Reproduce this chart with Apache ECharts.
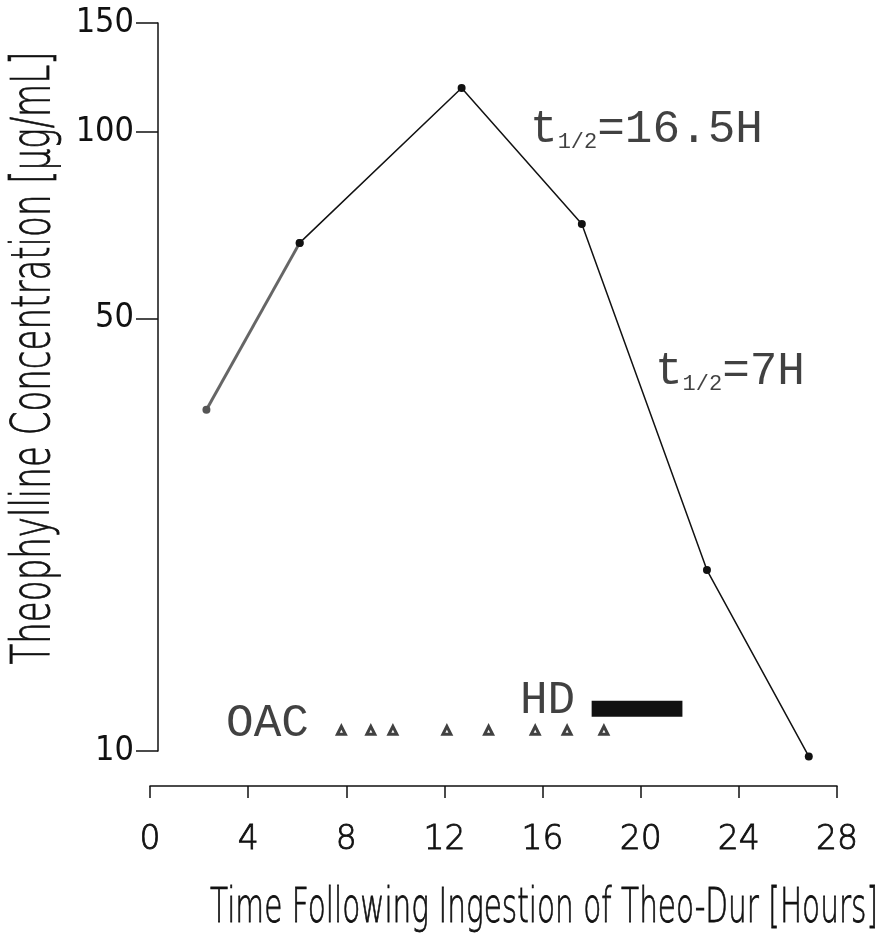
<!DOCTYPE html>
<html>
<head>
<meta charset="utf-8">
<title>Theophylline</title>
<script src="https://cdn.jsdelivr.net/npm/echarts@6/dist/echarts.min.js"></script>
<style>
    html, body { margin: 0; padding: 0; background: #fff; }
    #main { width: 880px; height: 940px; }
</style>
</head>
<body>
<div id="main"></div>
<script>
// 数据：时间(小时) 与 血药浓度 (µg/mL)
var timeHours = [2.3, 6.1, 12.7, 17.6, 22.7, 26.85];
var concValues = [35.6, 66.2, 117.8, 71.0, 19.6, 9.8];

// OAC 三角形标记
var oacHours = [7.8, 9.0, 9.9, 12.1, 13.8, 15.7, 17.0, 18.5];
var oacLevel = 10.8;

// HD 黑条
var hdHours = [18.0, 21.7];
var hdLevel = 11.7;

// 刻度
var xTicks = [0, 4, 8, 12, 16, 20, 24, 28];
var yTicks = [10, 50, 100, 150];

var monoFont = '"Liberation Mono", "DejaVu Sans Mono", monospace';
var narrowFont = '"Liberation Sans Narrow", "DejaVu Sans Condensed", "Liberation Sans", sans-serif';
var lightFont = '"DejaVu Sans ExtraLight", "DejaVu Sans Light", "DejaVu Sans", sans-serif';

var xTitle = 'Time Following Ingestion of Theo-Dur [Hours]';
var yTitle = 'Theophylline Concentration [µg/mL]';

var myChart = echarts.init(document.getElementById('main'));

// 量一下文字宽度，算出横向压缩比例（原图字体很窄）
function fitScale(text, size, family, weight, target) {
    var ctx = document.createElement('canvas').getContext('2d');
    ctx.font = weight + ' ' + size + 'px ' + family;
    return target / ctx.measureText(text).width;
}

// 把数组拼成 [x, y] 点
function pairs(xs, ys) {
    var out = [];
    for (var i = 0; i < xs.length; i++) {
        out.push([xs[i], ys[i]]);
    }
    return out;
}

var allPoints = pairs(timeHours, concValues);
var oacPoints = [];
for (var i = 0; i < oacHours.length; i++) {
    oacPoints.push([oacHours[i], oacLevel]);
}
var hdPoints = [[hdHours[0], hdLevel], [hdHours[1], hdLevel]];

var richText = {
    a: { fontFamily: monoFont, fontSize: 46, color: '#111', verticalAlign: 'bottom', lineHeight: 50 },
    b: { fontFamily: monoFont, fontSize: 22, color: '#111', verticalAlign: 'bottom', lineHeight: 38 }
};

function note(x, y, text) {
    return {
        value: [x, y],
        label: {
            show: true,
            position: 'right',
            distance: 0,
            formatter: text,
            rich: richText
        }
    };
}

var notes = [
    note(15.49, 101.5, '{a|t}{b|1/2}{a|=16.5H}'),
    note(20.58, 41.3, '{a|t}{b|1/2}{a|=7H}'),
    note(3.10, 11.14, '{a|OAC}'),
    note(15.08, 12.13, '{a|HD}')
];

var option = {
    animation: false,
    backgroundColor: '#fff',
    grid: { left: 150, right: 43, top: 23, bottom: 189 },
    xAxis: {
        type: 'value',
        min: 0,
        max: 28,
        interval: 4,
        offset: 35,
        splitLine: { show: false },
        axisLine: { lineStyle: { color: '#111', width: 1.5 } },
        axisTick: { length: 12, lineStyle: { color: '#111', width: 1.5 } },
        axisLabel: {
            margin: 38,
            fontSize: 33,
            fontWeight: 300,
            fontFamily: lightFont,
            color: '#111',
            textBorderColor: '#111',
            textBorderWidth: 0.8,
            customValues: xTicks
        }
    },
    yAxis: {
        type: 'log',
        logBase: 10,
        min: 10,
        max: 150,
        offset: -8,
        splitLine: { show: false },
        axisLine: { show: true, lineStyle: { color: '#111', width: 1.5 } },
        axisTick: { show: true, length: 22, lineStyle: { color: '#111', width: 1.5 }, customValues: yTicks },
        axisLabel: {
            margin: 24,
            fontSize: 34,
            fontFamily: narrowFont,
            color: '#111',
            customValues: yTicks
        }
    },
    graphic: [
        {
            type: 'text',
            x: 544, y: 910,
            scaleX: fitScale(xTitle, 48, lightFont, 300, 668),
            style: {
                text: xTitle,
                fontSize: 48,
                fontWeight: 300,
                fontFamily: lightFont,
                fill: '#111',
                stroke: '#111',
                lineWidth: 0.8,
                textAlign: 'center',
                textVerticalAlign: 'middle'
            }
        },
        {
            type: 'text',
            x: 35, y: 358,
            rotation: Math.PI / 2,
            scaleX: fitScale(yTitle, 54, lightFont, 300, 613),
            style: {
                text: yTitle,
                fontSize: 54,
                fontWeight: 300,
                fontFamily: lightFont,
                fill: '#111',
                stroke: '#111',
                lineWidth: 0.8,
                textAlign: 'center',
                textVerticalAlign: 'middle'
            }
        }
    ],
    series: [
        {
            // 前两个点之间是灰色的粗线
            type: 'line',
            data: allPoints.slice(0, 2),
            clip: false,
            symbol: 'circle',
            symbolSize: 8,
            lineStyle: { color: '#666', width: 3 },
            itemStyle: { color: '#555' }
        },
        {
            type: 'line',
            data: allPoints.slice(1),
            clip: false,
            symbol: 'circle',
            symbolSize: 8,
            lineStyle: { color: '#111', width: 1.5 },
            itemStyle: { color: '#111' }
        },
        {
            type: 'scatter',
            data: oacPoints,
            symbol: 'triangle',
            symbolSize: 8,
            itemStyle: { color: '#fff', borderColor: '#111', borderWidth: 3 }
        },
        {
            type: 'line',
            data: hdPoints,
            symbol: 'none',
            lineStyle: { color: '#111', width: 16, cap: 'butt' }
        },
        {
            type: 'scatter',
            data: notes,
            symbolSize: 0,
            silent: true
        }
    ]
};

myChart.setOption(option);
window.onresize = myChart.resize;
</script>
</body>
</html>
